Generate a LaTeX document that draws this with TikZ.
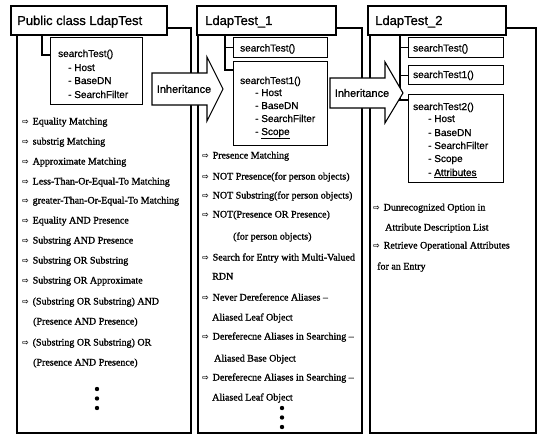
\documentclass[tikz,border=0pt]{standalone}
\usepackage{fontspec}
\setmainfont[FakeBold=1.2,BoldFont={Liberation Serif}]{Liberation Serif}
\newfontfamily\sansf[FakeBold=0.8,BoldFont={Liberation Sans}]{Liberation Sans}
\newfontfamily\symf{DejaVu Sans}
\newcommand\bul{\makebox[10.5pt][l]{\symf\fontsize{8}{8}\selectfont ⇨}}
\tikzset{
  frame/.style={draw, line width=1.3pt},
  titlebox/.style={draw, line width=1.8pt, fill=white, anchor=north west, inner sep=0pt},
  titletext/.style={anchor=base west, inner sep=0pt, font=\sansf\fontsize{13}{15}\selectfont},
  mbox/.style={draw, line width=1.1pt, fill=white, anchor=north west, inner sep=0pt},
  mtext/.style={anchor=base west, inner sep=0pt, font=\sansf\bfseries\fontsize{10}{12}\selectfont},
  tree/.style={draw, line width=1.1pt},
  inharrow/.style={draw, line width=1.1pt, fill=white, line join=miter},
  inhtext/.style={anchor=center, inner sep=0pt, font=\sansf\fontsize{11}{13}\selectfont},
  item/.style={anchor=base west, inner sep=0pt, font=\bfseries\fontsize{10}{12}\selectfont},
  dotmark/.style={fill=black}
}
\begin{document}
\begin{tikzpicture}[x=1pt,y=-1pt]
\useasboundingbox (0,0) rectangle (540,436);
% column frames
\draw[frame] (17,28) rectangle (191,433);
\draw[frame] (198,28) rectangle (362,433);
\draw[frame] (370,28) rectangle (536,433);
% title boxes
\node[titlebox, minimum width=156pt, minimum height=29pt] (t1) at (10,5) {};
\node[titletext] (t1l) at (17,25) {Public class LdapTest};
\node[titlebox, minimum width=139pt, minimum height=29pt] (t2) at (196,5) {};
\node[titletext] (t2l) at (205,25) {LdapTest\_1};
\node[titlebox, minimum width=138pt, minimum height=29pt] (t3) at (367,5) {};
\node[titletext] (t3l) at (375,25) {LdapTest\_2};
% method boxes column 1
\node[mbox, minimum width=92pt, minimum height=67pt] (m1) at (50,37) {};
\node[mtext] (m1a) at (58,57) {searchTest()};
\node[mtext] (m1b) at (68,71) {- Host};
\node[mtext] (m1c) at (68,84) {- BaseDN};
\node[mtext] (m1d) at (68,98) {- SearchFilter};
\coordinate (k1) at (42,55);
\draw[tree] (t1.south -| k1) |- (m1.west |- k1);
% method boxes column 2
\node[mbox, minimum width=94pt, minimum height=20pt] (m2a) at (233,37) {};
\node[mtext] (m2at) at (240,51.5) {searchTest()};
\node[mbox, minimum width=94pt, minimum height=84pt] (m2b) at (233,61) {};
\node[mtext] (m2b1) at (240,84) {searchTest1()};
\node[mtext] (m2b2) at (255,96) {- Host};
\node[mtext] (m2b3) at (255,109) {- BaseDN};
\node[mtext] (m2b4) at (255,122) {- SearchFilter};
\node[mtext] (m2b5) at (255,135) {- \underline{Scope}};
\coordinate (k2) at (225,70);
\draw[tree] (t2.south -| k2) -- (k2) -- (m2b.west |- k2);
\draw[tree] (m2a.west -| k2) -- (m2a.west);
% method boxes column 3
\node[mbox, minimum width=95pt, minimum height=20pt] (m3a) at (408,37) {};
\node[mtext] (m3at) at (413,51.5) {searchTest()};
\node[mbox, minimum width=95pt, minimum height=19pt] (m3b) at (408,65) {};
\node[mtext] (m3bt) at (413,78) {searchTest1()};
\node[mbox, minimum width=95pt, minimum height=88pt] (m3c) at (408,94) {};
\node[mtext] (m3c1) at (413,110) {searchTest2()};
\node[mtext] (m3c2) at (428,122) {- Host};
\node[mtext] (m3c3) at (428,136) {- BaseDN};
\node[mtext] (m3c4) at (428,149) {- SearchFilter};
\node[mtext] (m3c5) at (428,162) {- Scope};
\node[mtext] (m3c6) at (428,176) {- \underline{Attributes}};
\coordinate (k3) at (400,100);
\draw[tree] (t3.south -| k3) -- (k3) -- (m3c.west |- k3);
\draw[tree] (m3a.west -| k3) -- (m3a.west);
\draw[tree] (m3b.west -| k3) -- (m3b.west);
% inheritance arrows
\draw[inharrow] (152,73) -- (207,73) -- (207,57) -- (223,89) -- (207,121) -- (207,105) -- (152,105) -- cycle;
\node[inhtext] (inh1) at (184,89) {Inheritance};
\draw[inharrow] (330,78) -- (385,78) -- (385,62) -- (403,93) -- (385,123) -- (385,108) -- (330,108) -- cycle;
\node[inhtext] (inh2) at (362,93) {Inheritance};
% column 1 items
\node[item] (a1) at (22,124.5) {\bul Equality Matching};
\node[item] (a2) at (22,144.5) {\bul substrig Matching};
\node[item] (a3) at (22,164.5) {\bul Approximate Matching};
\node[item] (a4) at (22,184.5) {\bul Less-Than-Or-Equal-To Matching};
\node[item] (a5) at (22,203.5) {\bul greater-Than-Or-Equal-To Matching};
\node[item] (a6) at (22,223.5) {\bul Equality AND Presence};
\node[item] (a7) at (22,243.5) {\bul Substring AND Presence};
\node[item] (a8) at (22,263.5) {\bul Substring OR Substring};
\node[item] (a9) at (22,283.5) {\bul Substring OR Approximate};
\node[item] (a10) at (22,304.5) {\bul (Substring OR Substring) AND};
\node[item] (a10b) at (33,324.5) {(Presence AND Presence)};
\node[item] (a11) at (22,345.5) {\bul (Substring OR Substring) OR};
\node[item] (a11b) at (33,365.5) {(Presence AND Presence)};
\fill[dotmark] (97,389) circle (2.2pt);
\fill[dotmark] (97,398.5) circle (2.2pt);
\fill[dotmark] (97,408) circle (2.2pt);
% column 2 items
\node[item] (b1) at (202,158.5) {\bul Presence Matching};
\node[item] (b2) at (202,179.5) {\bul NOT Presence(for person objects)};
\node[item] (b3) at (202,198.5) {\bul NOT Substring(for person objects)};
\node[item] (b4) at (202,217.5) {\bul NOT(Presence OR Presence)};
\node[item] (b4b) at (233,239.5) {(for person objects)};
\node[item] (b5) at (202,260.5) {\bul Search for Entry with Multi-Valued};
\node[item] (b5b) at (212,279.5) {RDN};
\node[item] (b6) at (202,300.5) {\bul Never Dereference Aliases --};
\node[item] (b6b) at (212,320.5) {Aliased Leaf Object};
\node[item] (b7) at (202,339.5) {\bul Dereferecne Aliases in Searching --};
\node[item] (b7b) at (214,361.5) {Aliased Base Object};
\node[item] (b8) at (202,380.5) {\bul Dereferecne Aliases in Searching --};
\node[item] (b8b) at (212,400.5) {Aliased Leaf Object};
\fill[dotmark] (282,408) circle (2.2pt);
\fill[dotmark] (282,417.5) circle (2.2pt);
\fill[dotmark] (282,427) circle (2.2pt);
% column 3 items
\node[item] (c1) at (373,210.5) {\bul Dunrecognized Option in};
\node[item] (c1b) at (385,230.5) {Attribute Description List};
\node[item] (c2) at (373,248.5) {\bul Retrieve Operational Attributes};
\node[item] (c2b) at (377,269.5) {for an Entry};
\end{tikzpicture}
\end{document}
